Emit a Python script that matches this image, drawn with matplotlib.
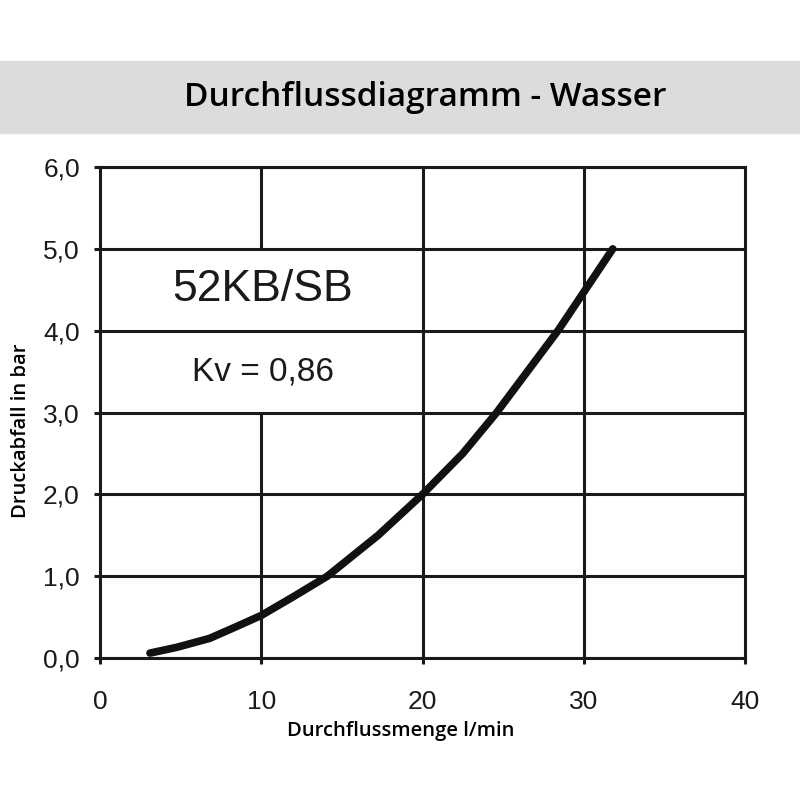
import numpy as np
import matplotlib
matplotlib.use("Agg")
import matplotlib.pyplot as plt
from matplotlib.patches import Rectangle

# flow (l/min) vs pressure drop (bar)
flow = [3.1, 4.75, 6.8, 8.3, 10.0, 12.0, 14.1, 17.25, 20.0, 22.5, 24.6, 26.5, 28.4, 30.1, 31.8]
dp = [0.06, 0.13, 0.24, 0.37, 0.52, 0.75, 1.0, 1.5, 2.0, 2.5, 3.0, 3.5, 4.0, 4.5, 5.0]

xticks = [0, 10, 20, 30, 40]
yticks = [0, 1, 2, 3, 4, 5, 6]
ytick_labels = ["0,0", "1,0", "2,0", "3,0", "4,0", "5,0", "6,0"]

title = "Durchflussdiagramm - Wasser"
model = "52KB/SB"
kv_text = "Kv = 0,86"
# label box: the vertical grid line at x=10 is left out between these y values
box_y = (3, 5)

fig = plt.figure(figsize=(8, 8), dpi=100)

# grey title band
fig.patches.append(Rectangle((0, 1 - 133/800), 1, (133-61)/800,
                             transform=fig.transFigure, color="#dcdcdc", zorder=0))
fig.text(425/800, 1 - 97/800, title, ha="center", va="center",
         fontsize=24, family="Open Sans", weight="semibold")

ax = fig.add_axes([100/800, 1 - 658/800, 645/800, 491/800])
ax.set_xlim(0, 40)
ax.set_ylim(0, 6)
ax.set_xticks(xticks)
ax.set_yticks(yticks)
ax.set_yticklabels(ytick_labels)
ax.grid(True, axis="y", color="#1a1a1a", lw=2.2)
gcol = "#1a1a1a"
for x in xticks[1:-1]:
    if x == 10:
        ax.vlines([x, x], [0, box_y[1]], [box_y[0], 6], color=gcol, lw=2.2, zorder=1)
    else:
        ax.vlines(x, 0, 6, color=gcol, lw=2.2, zorder=1)
for s in ax.spines.values():
    s.set_linewidth(2.2)
    s.set_color(gcol)
ax.tick_params(length=4.5, width=2.2, color=gcol, labelsize=19,
               labelcolor="#1a1a1a")
ax.tick_params(axis="x", pad=18.5)
ax.tick_params(axis="y", pad=10)
for lab in ax.get_xticklabels() + ax.get_yticklabels():
    lab.set_family("Liberation Sans")

ax.plot(flow, dp, color="#111111", lw=5.5, solid_capstyle="round",
        solid_joinstyle="round", zorder=5)

ax.text(10.1, 4.5, model, ha="center", va="center", fontsize=32,
        family="Liberation Sans", color="#1a1a1a")
ax.text(10.1, 3.5, kv_text, ha="center", va="center", fontsize=24,
        family="Liberation Sans", color="#1a1a1a")

ax.set_xlabel("Durchflussmenge l/min", fontsize=14.5, family="Open Sans",
              weight="semibold")
ax.set_ylabel("Druckabfall in bar", fontsize=14.5, family="Open Sans",
              weight="semibold")
ax.xaxis.set_label_coords((401 - 100)/645, -(721 - 658)/491)
ax.yaxis.set_label_coords(-(100 - 31)/645, (658 - 431)/491)

fig.savefig("out.png", dpi=100)
